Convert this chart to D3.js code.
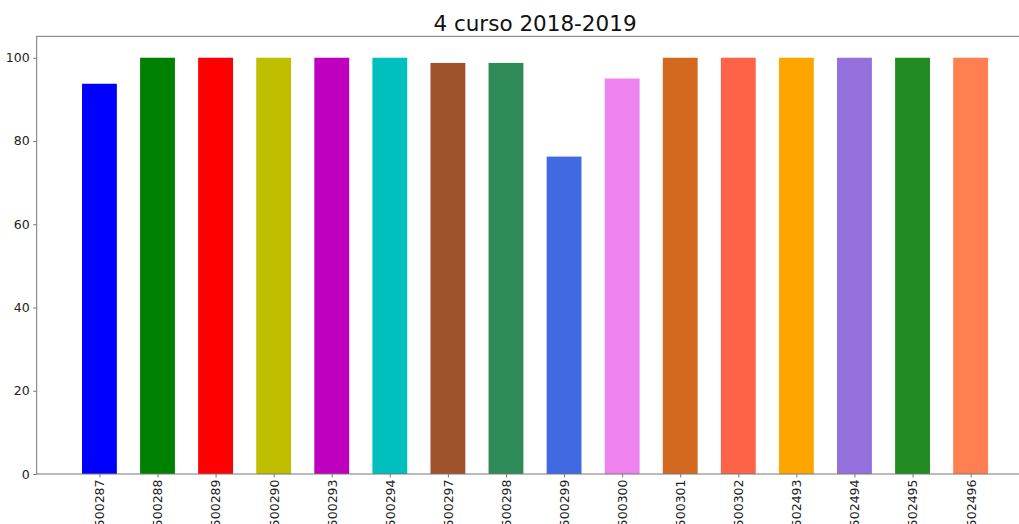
<!DOCTYPE html>
<html>
<head>
<meta charset="utf-8">
<script src="https://cdn.jsdelivr.net/npm/d3@7"></script>
<style>
  body { margin: 0; background: #fff; }
  svg { font-family: "DejaVu Sans", sans-serif; display: block; }
</style>
</head>
<body>
<div id="chart"></div>
<script>
// Data
const categories = ['500287', '500288', '500289', '500290', '500293', '500294', '500297', '500298',
    '500299', '500300', '500301', '500302', '502493', '502494', '502495', '502496'];
const values = [93.75, 100, 100, 100, 100, 100, 98.75, 98.75, 76.25, 95, 100, 100, 100, 100, 100, 100];
const barColors = ['#0000ff', '#008000', '#ff0000', '#bfbf00', '#bf00bf', '#00bfbf', '#a0522d', '#2e8b57',
    '#4169e1', '#ee82ee', '#d2691e', '#ff6347', '#ffa500', '#9370db', '#228b22', '#ff7f50'];
const yTicks = [0, 20, 40, 60, 80, 100];

const width = 1019, height = 524;
const plotLeft = 36.7, plotTop = 36.3, plotBottom = 474;
const unit = 58.08; // pixels per category step

const svg = d3.select("#chart")
    .append("svg")
    .attr("width", width)
    .attr("height", height);

// x is linear over index, like matplotlib with 5% margins (the figure is cut on the right)
const x = d3.scaleLinear()
    .domain([-1.08, 16.08])
    .range([plotLeft, plotLeft + 17.16 * unit]);

const y = d3.scaleLinear()
    .domain([0, 105.15])
    .range([plotBottom, plotTop]);

const barWidth = 0.6;

// bars
svg.selectAll(".bar")
    .data(values)
    .enter()
    .append("rect")
    .attr("class", "bar")
    .attr("x", (d, i) => x(i - barWidth / 2))
    .attr("width", (d, i) => x(i + barWidth / 2) - x(i - barWidth / 2))
    .attr("y", d => y(d))
    .attr("height", d => y(0) - y(d))
    .style("fill", (d, i) => barColors[i]);

// frame
const plotRight = x(16.08);
svg.append("rect")
    .attr("x", plotLeft)
    .attr("y", plotTop)
    .attr("width", plotRight - plotLeft)
    .attr("height", plotBottom - plotTop)
    .style("fill", "none")
    .style("stroke", "#777")
    .style("stroke-width", 1);

// y axis
const yAxis = d3.axisLeft(y)
    .tickValues(yTicks)
    .tickSize(3.5)
    .tickPadding(3.5);

const gy = svg.append("g")
    .attr("transform", "translate(" + plotLeft + ",0)")
    .call(yAxis);
gy.select(".domain").remove();
gy.selectAll("line").style("stroke", "#777");
gy.selectAll("text")
    .style("font-size", "12.5px")
    .style("fill", "#222")
    .style("font-family", "DejaVu Sans, sans-serif");

// x axis, labels rotated
const xAxis = d3.axisBottom(x)
    .tickValues(d3.range(categories.length))
    .tickFormat(i => categories[i])
    .tickSize(3.5)
    .tickPadding(3.5);

const gx = svg.append("g")
    .attr("transform", "translate(0," + plotBottom + ")")
    .call(xAxis);
gx.select(".domain").remove();
gx.selectAll("line").style("stroke", "#777");
gx.selectAll("text")
    .style("font-size", "12.5px")
    .style("fill", "#222")
    .style("font-family", "DejaVu Sans, sans-serif")
    .attr("text-anchor", "end")
    .attr("dy", "0.35em")
    .attr("transform", "translate(0,5.5) rotate(-90)")
    .attr("x", 0)
    .attr("y", 0);

// title
svg.append("text")
    .attr("x", 535)
    .attr("y", 31)
    .attr("text-anchor", "middle")
    .style("font-size", "21.5px")
    .style("fill", "#111")
    .text("4 curso 2018-2019");
</script>
</body>
</html>
